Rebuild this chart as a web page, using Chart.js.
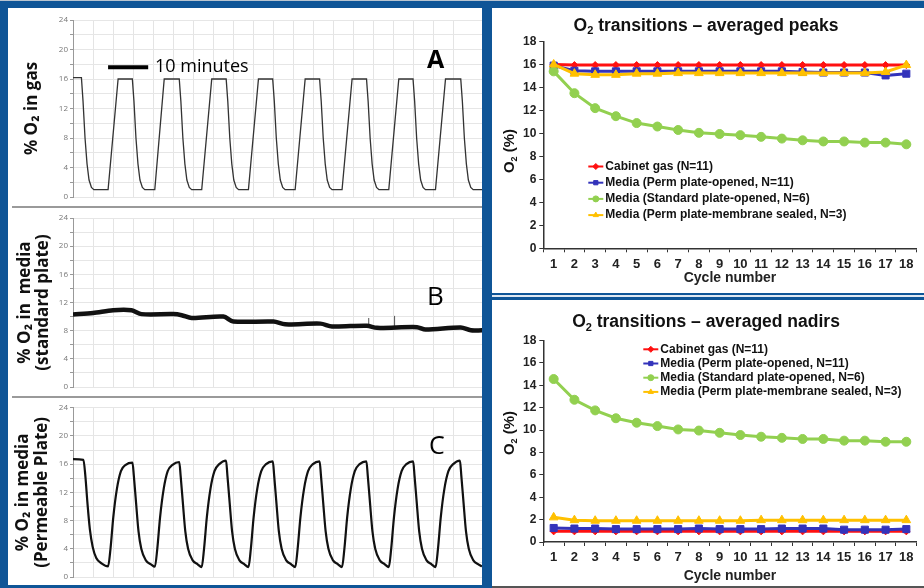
<!DOCTYPE html>
<html>
<head>
<meta charset="utf-8">
<script src="https://cdn.jsdelivr.net/npm/chart.js@4/dist/chart.umd.min.js"></script>
<style>
body { margin: 0; width: 924px; height: 588px; background: #0f5597; position: relative; overflow: hidden; }
.box { position: absolute; background: #fff; }
.rule { position: absolute; background: #9a9a9a; }
canvas { position: absolute; }
</style>
</head>
<body>
<div class="rule" style="left:0;top:0;width:924px;height:1px;background:#b8c4d0"></div>
<div class="box" style="left:8px;top:8px;width:474px;height:577px"></div>
<div class="rule" style="left:12px;top:206px;width:470px;height:1.5px"></div>
<div class="rule" style="left:12px;top:396px;width:470px;height:1.5px"></div>
<div class="box" style="left:492px;top:8px;width:432px;height:285px"></div>
<div class="box" style="left:492px;top:295px;width:432px;height:2px;background:#dfe8f2"></div>
<div class="box" style="left:492px;top:300px;width:432px;height:286px"></div>
<div class="rule" style="left:492px;top:586px;width:432px;height:2px;background:#555"></div>

<canvas id="traceA" width="474" height="198" style="left:8px;top:8px"></canvas>
<canvas id="traceB" width="474" height="190" style="left:8px;top:207px"></canvas>
<canvas id="traceC" width="474" height="187" style="left:8px;top:398px"></canvas>
<canvas id="peaks" width="432" height="285" style="left:492px;top:8px"></canvas>
<canvas id="nadirs" width="432" height="286" style="left:492px;top:300px"></canvas>

<script>
// left traces: time in minutes, O2 in %
const aTime = [0, 2.1, 2.5, 3.0, 3.5, 4.0, 4.6, 5.2,
  8.75, 11.25, 14.8, 15.2, 15.7, 16.2, 16.7, 17.3, 17.9,
  20.4, 22.75, 26.5, 26.9, 27.4, 27.9, 28.4, 29.0, 29.6,
  32.1, 34.6, 38.2, 38.6, 39.1, 39.6, 40.1, 40.7, 41.3,
  43.75, 46.25, 49.8, 50.2, 50.7, 51.2, 51.7, 52.3, 52.9,
  55.4, 57.9, 61.5, 61.9, 62.4, 62.9, 63.4, 64.0, 64.6,
  67.1, 69.6, 73.2, 73.6, 74.1, 74.6, 75.1, 75.7, 76.3,
  78.75, 81.25, 84.8, 85.2, 85.7, 86.2, 86.7, 87.3, 87.9,
  90.4, 92.9, 96.7, 97.1, 97.6, 98.1, 98.6, 99.2, 99.8,
  102];
const aO2 = [16.2, 16.2, 13, 8, 4.5, 2.3, 1.3, 1.0,
  1.0, 16, 16, 13, 8, 4.5, 2.3, 1.3, 1.0,
  1.0, 16, 16, 13, 8, 4.5, 2.3, 1.3, 1.0,
  1.0, 16, 16, 13, 8, 4.5, 2.3, 1.3, 1.0,
  1.0, 16, 16, 13, 8, 4.5, 2.3, 1.3, 1.0,
  1.0, 16, 16, 13, 8, 4.5, 2.3, 1.3, 1.0,
  1.0, 16, 16, 13, 8, 4.5, 2.3, 1.3, 1.0,
  1.0, 16, 16, 13, 8, 4.5, 2.3, 1.3, 1.0,
  1.0, 16, 16, 13, 8, 4.5, 2.3, 1.3, 1.0,
  1.0];
const scaleBarTime = [8.75, 18.75];
const scaleBarO2 = [17.6, 17.6];

const bTime = [0, 5, 10, 14.6, 17.1, 25, 27.1, 29.6, 37.5, 40, 50, 52.9, 61.7, 64.6, 73.3, 75.8, 85.8, 87.9, 96.7, 99.2, 102];
const bO2 = [10.3, 10.5, 10.9, 10.9, 10.35, 10.35, 10.2, 9.8, 10.0, 9.3, 9.3, 8.9, 9.0, 8.6, 8.7, 8.4, 8.5, 8.15, 8.45, 8.05, 8.05];
const bSpikeTime = [73.75, 73.75, 73.8, 80.2, 80.2];
const bSpikeO2 = [8.7, 9.8, null, 8.4, 10.1];

const cTime = [0, 2.6, 3.1, 3.6, 4.2, 4.9, 5.8, 7.2, 8.75,
  9.35, 10.05, 10.95, 11.95, 13.15, 14.83, 15.18, 15.73, 16.33, 17.03, 18.13, 19.43, 20.42,
  21.02, 21.72, 22.62, 23.62, 24.82, 26.5, 26.85, 27.4, 28.0, 28.7, 29.8, 31.1, 32.08,
  32.68, 33.38, 34.28, 35.28, 36.48, 38.17, 38.52, 39.07, 39.67, 40.37, 41.47, 42.77, 43.75,
  44.35, 45.05, 45.95, 46.95, 48.15, 49.83, 50.18, 50.73, 51.33, 52.03, 53.13, 54.43, 55.42,
  56.02, 56.72, 57.62, 58.62, 59.82, 61.5, 61.85, 62.4, 63.0, 63.7, 64.8, 66.1, 67.08,
  67.68, 68.38, 69.28, 70.28, 71.48, 73.17, 73.52, 74.07, 74.67, 75.37, 76.47, 77.77, 78.75,
  79.35, 80.05, 80.95, 81.95, 83.15, 84.83, 85.18, 85.73, 86.33, 87.03, 88.13, 89.43, 90.42,
  91.02, 91.72, 92.62, 93.62, 94.82, 96.5, 96.85, 97.4, 98.0, 98.7, 99.8, 101.1, 102];
const cO2 = [16.7, 16.6, 14.2, 10.5, 6.8, 4.3, 2.7, 1.9, 1.5,
  4, 8.5, 12.5, 15.0, 15.9, 16.2, 14.3, 10.5, 6.5, 4.0, 2.4, 1.8, 1.45,
  4, 8.5, 12.5, 15.0, 15.9, 16.3, 14.3, 10.5, 6.5, 4.0, 2.4, 1.8, 1.4,
  4, 8.5, 12.5, 15.0, 16.0, 16.5, 14.3, 10.5, 6.5, 4.0, 2.4, 1.8, 1.4,
  4, 8.5, 12.5, 15.0, 16.0, 16.4, 14.3, 10.5, 6.5, 4.0, 2.4, 1.8, 1.4,
  4, 8.5, 12.5, 15.0, 16.0, 16.4, 14.3, 10.5, 6.5, 4.0, 2.4, 1.8, 1.4,
  4, 8.5, 12.5, 15.0, 16.0, 16.4, 14.3, 10.5, 6.5, 4.0, 2.4, 1.8, 1.4,
  4, 8.5, 12.5, 15.0, 16.0, 16.4, 14.3, 10.5, 6.5, 4.0, 2.4, 1.8, 1.4,
  4, 8.5, 12.5, 15.0, 16.0, 16.5, 14.3, 10.5, 6.5, 4.0, 2.4, 1.8, 1.5];

// right charts: averaged per cycle
const cycles = ['1','2','3','4','5','6','7','8','9','10','11','12','13','14','15','16','17','18'];
const seriesNames = ['Cabinet gas (N=11)', 'Media (Perm plate-opened, N=11)', 'Media (Standard plate-opened, N=6)', 'Media (Perm plate-membrane sealed, N=3)'];
const peakCabinet = [16.0, 15.95, 15.95, 15.95, 15.95, 15.95, 15.95, 15.95, 15.95, 15.95, 15.95, 15.95, 15.95, 15.95, 15.95, 15.95, 15.95, 15.95];
const peakPermOpen = [15.9, 15.45, 15.4, 15.4, 15.4, 15.4, 15.4, 15.4, 15.4, 15.4, 15.4, 15.4, 15.35, 15.3, 15.3, 15.3, 15.05, 15.2];
const peakStandard = [15.4, 13.5, 12.2, 11.5, 10.9, 10.6, 10.3, 10.05, 9.95, 9.85, 9.7, 9.55, 9.4, 9.3, 9.3, 9.2, 9.2, 9.05];
const peakSealed = [16.0, 15.2, 15.1, 15.1, 15.2, 15.2, 15.25, 15.25, 15.25, 15.25, 15.25, 15.25, 15.25, 15.25, 15.25, 15.25, 15.35, 15.95];
const nadirCabinet = [0.95, 0.95, 0.95, 0.95, 0.95, 0.95, 0.95, 0.95, 0.95, 0.95, 0.95, 0.95, 0.95, 0.95, 0.95, 0.95, 0.95, 0.95];
const nadirPermOpen = [1.25, 1.2, 1.2, 1.15, 1.15, 1.15, 1.15, 1.2, 1.15, 1.15, 1.15, 1.2, 1.2, 1.2, 1.1, 1.1, 1.1, 1.15];
const nadirStandard = [14.55, 12.7, 11.75, 11.05, 10.65, 10.35, 10.05, 9.95, 9.75, 9.55, 9.4, 9.3, 9.2, 9.2, 9.05, 9.05, 8.95, 8.95];
const nadirSealed = [2.2, 1.95, 1.9, 1.9, 1.9, 1.9, 1.9, 1.9, 1.9, 1.9, 1.95, 1.95, 1.95, 1.95, 1.95, 1.95, 1.95, 1.95];

const leftFont = '"Open Sans", sans-serif';
const rightFont = 'Arial, "Liberation Sans", sans-serif';
const seriesColors = ['#ff1010', '#3333bb', '#92d050', '#ffc000'];
const seriesMarks = ['rectRot', 'rect', 'circle', 'triangle'];
const seriesRadius = [3.5, 5, 4.5, 5];
const seriesOrder = [3, 2, 1, 0];

function xy(xs, ys) {
  return xs.map((x, i) => ({ x: x, y: ys[i] }));
}

function notesPlugin(notes) {
  return {
    id: 'notes',
    afterDraw(chart) {
      const ctx = chart.ctx;
      notes.forEach(n => {
        ctx.save();
        ctx.font = n.font;
        ctx.fillStyle = '#000';
        ctx.textBaseline = 'middle';
        ctx.fillText(n.text, n.x, n.y);
        ctx.restore();
      });
    }
  };
}

function traceChart(id, sets, yTitle, titlePad, padTop, padBottom, notes) {
  new Chart(document.getElementById(id), {
    type: 'line',
    data: { datasets: sets },
    options: {
      responsive: false,
      animation: false,
      devicePixelRatio: 1,
      layout: { padding: { top: padTop, bottom: padBottom, left: 0, right: 0 } },
      plugins: { legend: { display: false }, tooltip: { enabled: false } },
      elements: { point: { radius: 0 } },
      scales: {
        x: {
          type: 'linear', min: 0, max: 102,
          afterFit: s => { s.height = 0; },
          ticks: { display: false, stepSize: 5 },
          grid: { color: '#e4e4e4', drawTicks: false },
          border: { display: false }
        },
        y: {
          min: 0, max: 24,
          afterFit: s => { s.width = 65; },
          ticks: {
            stepSize: 2, autoSkip: false, color: '#777', padding: 2,
            font: { size: 8, family: leftFont },
            callback: v => (v % 4 === 0 ? v : '')
          },
          grid: { color: '#e6e6e6', tickLength: 3, tickColor: '#999' },
          border: { color: '#999' },
          title: {
            display: true, text: yTitle, color: '#111',
            font: { family: leftFont, weight: 'bold', size: 17, lineHeight: 1.1 },
            padding: { top: titlePad, bottom: 0 }
          }
        }
      }
    },
    plugins: [notesPlugin(notes)]
  });
}

traceChart('traceA', [
  { data: xy(aTime, aO2), borderColor: '#333', borderWidth: 1.3, tension: 0 },
  { data: xy(scaleBarTime, scaleBarO2), borderColor: '#000', borderWidth: 4 }
], '% O\u2082 in gas', 14.6, 12, 9, [
  { text: '10 minutes', x: 147, y: 59, font: '18px ' + leftFont },
  { text: 'A', x: 419, y: 53, font: 'bold 25px ' + leftFont }
]);

traceChart('traceB', [
  { data: xy(bTime, bO2), borderColor: '#111', borderWidth: 4.5, tension: 0.3 },
  { data: xy(bSpikeTime, bSpikeO2), borderColor: '#555', borderWidth: 1 }
], ['% O\u2082 in  media', '(standard plate)'], 7.6, 11, 10, [
  { text: 'B', x: 419, y: 91, font: '26px ' + leftFont }
]);

traceChart('traceC', [
  { data: xy(cTime, cO2), borderColor: '#111', borderWidth: 2.2, cubicInterpolationMode: 'monotone' }
], ['% O\u2082 in media', '(Permeable Plate)'], 6, 9.7, 8, [
  { text: 'C', x: 421, y: 49, font: '25px ' + leftFont }
]);

// text with a subscript 2 after the leading "O"
function drawO2(ctx, rest, x, y, size, rotate) {
  ctx.save();
  ctx.translate(x, y);
  if (rotate) ctx.rotate(-Math.PI / 2);
  ctx.fillStyle = '#111';
  ctx.textBaseline = 'middle';
  const big = 'bold ' + size + 'px ' + rightFont;
  const small = 'bold ' + Math.round(size * 0.62) + 'px ' + rightFont;
  ctx.font = big;
  const wO = ctx.measureText('O').width;
  const wRest = ctx.measureText(rest).width;
  ctx.font = small;
  const w2 = ctx.measureText('2').width;
  let cx = -(wO + w2 + wRest) / 2;
  ctx.font = big;
  ctx.fillText('O', cx, 0);
  cx += wO;
  ctx.font = small;
  ctx.fillText('2', cx, size * 0.3);
  cx += w2;
  ctx.font = big;
  ctx.fillText(rest, cx, 0);
  ctx.restore();
}

function drawMark(ctx, style, r, x, y, color) {
  ctx.save();
  ctx.fillStyle = color;
  ctx.strokeStyle = color;
  if (Chart.helpers && Chart.helpers.drawPoint) {
    Chart.helpers.drawPoint(ctx, { pointStyle: style, radius: r, rotation: 0, borderWidth: 1 }, x, y);
  } else {
    ctx.beginPath();
    ctx.arc(x, y, r, 0, Math.PI * 2);
    ctx.fill();
  }
  ctx.restore();
}

function decorPlugin(title, titleY, yTitleY, leg) {
  return {
    id: 'decor',
    afterDraw(chart) {
      const ctx = chart.ctx;
      drawO2(ctx, ' transitions \u2013 averaged ' + title, 214, titleY, 17.5, false);
      drawO2(ctx, ' (%)', 18, yTitleY, 15, true);
      seriesNames.forEach((name, i) => {
        const y = leg.y + i * leg.gap;
        ctx.save();
        ctx.strokeStyle = seriesColors[i];
        ctx.lineWidth = 2;
        ctx.beginPath();
        ctx.moveTo(leg.x, y);
        ctx.lineTo(leg.x + 15, y);
        ctx.stroke();
        ctx.restore();
        drawMark(ctx, seriesMarks[i], 3, leg.x + 7.5, y, seriesColors[i]);
        ctx.save();
        ctx.fillStyle = '#111';
        ctx.font = 'bold 12px ' + rightFont;
        ctx.textBaseline = 'middle';
        ctx.fillText(name, leg.x + 17, y);
        ctx.restore();
      });
    }
  };
}

function cycleChart(id, values, title, titleY, yTitleY, padTop, xHeight, xTitlePad, leg) {
  const sets = values.map((vals, i) => ({
    label: seriesNames[i],
    data: vals,
    borderColor: seriesColors[i],
    backgroundColor: seriesColors[i],
    borderWidth: 3,
    pointStyle: seriesMarks[i],
    pointRadius: seriesRadius[i],
    pointBorderWidth: 1,
    order: seriesOrder[i]
  }));
  new Chart(document.getElementById(id), {
    type: 'line',
    data: { labels: cycles, datasets: sets },
    options: {
      responsive: false,
      animation: false,
      devicePixelRatio: 1,
      layout: { padding: { top: padTop, bottom: 0, left: 0, right: 7.3 } },
      plugins: { legend: { display: false }, tooltip: { enabled: false } },
      scales: {
        x: {
          type: 'category', offset: true,
          afterFit: s => { s.height = xHeight; },
          grid: { offset: true, drawOnChartArea: false, tickLength: 4, tickColor: '#333' },
          border: { color: '#333', width: 1.5 },
          ticks: { color: '#222', padding: 4, maxRotation: 0, autoSkip: false, font: { family: rightFont, weight: 'bold', size: 13 } },
          title: {
            display: true, text: 'Cycle number', color: '#222',
            font: { family: rightFont, weight: 'bold', size: 14 },
            padding: { top: 0, bottom: xTitlePad }
          }
        },
        y: {
          min: 0, max: 18,
          afterFit: s => { s.width = 51.3; },
          grid: { drawOnChartArea: false, tickLength: 4, tickColor: '#333' },
          border: { color: '#333', width: 1.5 },
          ticks: { stepSize: 2, color: '#222', padding: 3, font: { family: rightFont, weight: 'bold', size: 12 } }
        }
      }
    },
    plugins: [decorPlugin(title, titleY, yTitleY, leg)]
  });
}

cycleChart('peaks', [peakCabinet, peakPermOpen, peakStandard, peakSealed],
  'peaks', 18, 143, 33.5, 44.7, 6.9, { x: 96.3, y: 158.5, gap: 16.2 });
cycleChart('nadirs', [nadirCabinet, nadirPermOpen, nadirStandard, nadirSealed],
  'nadirs', 22.5, 133, 40.4, 44, 1, { x: 151.3, y: 49.3, gap: 14.2 });
</script>
</body>
</html>
